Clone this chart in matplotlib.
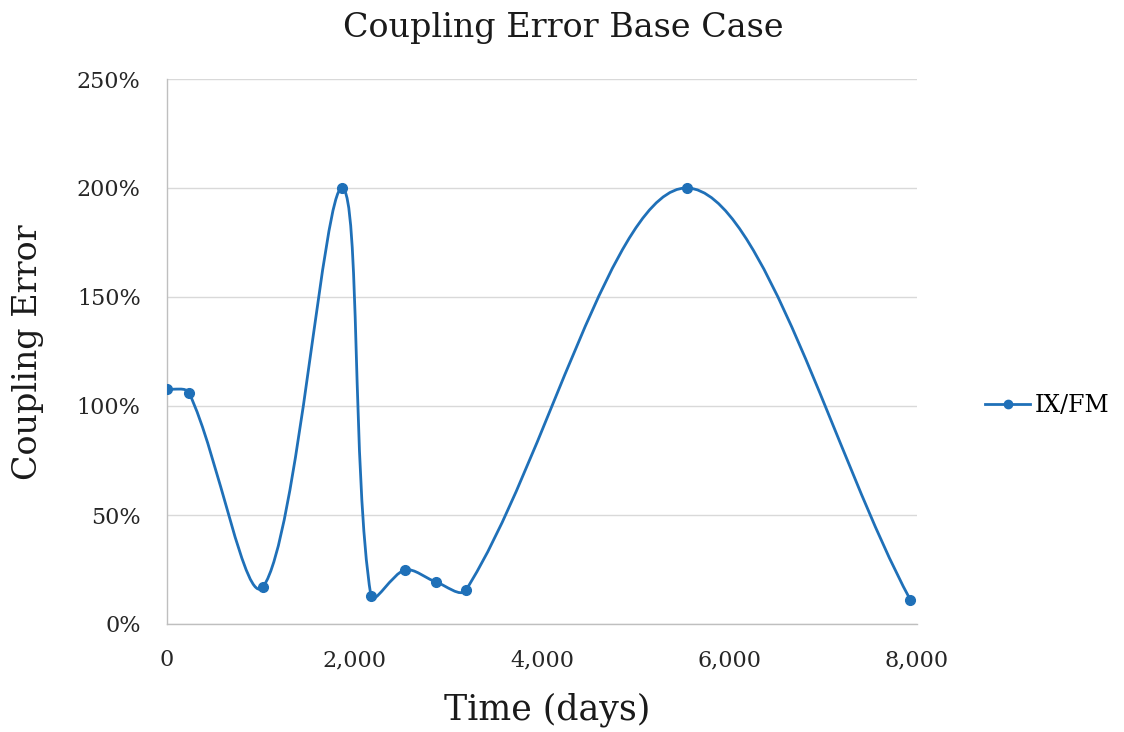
import numpy as np
import matplotlib
matplotlib.use("Agg")
import matplotlib.pyplot as plt
from matplotlib.path import Path
from matplotlib.patches import PathPatch
from matplotlib.lines import Line2D
from matplotlib.ticker import FuncFormatter

plt.rcParams['font.family'] = ['DejaVu Serif']

time_days = [0, 235, 1024, 1867, 2176, 2539, 2869, 3189, 5547, 7928]
coupling_error = [1.078, 1.06, 0.17, 2.00, 0.128, 0.248, 0.193, 0.156, 2.00, 0.112]
series_name = "IX/FM"
x_ticks = [0, 2000, 4000, 6000, 8000]
y_ticks = [0, 0.5, 1.0, 1.5, 2.0, 2.5]

color = '#1f70b8'

fig = plt.figure(figsize=(11.24, 7.32), dpi=100)
ax = fig.add_axes([167/1124, 1 - 624/732, 750/1124, 545/732])
ax.set_xlim(0, 8000)
ax.set_ylim(0, 2.5)

# Excel-like smoothed curve (Bezier with length-weighted tangents in display space)
fig.canvas.draw()
pts = ax.transData.transform(np.column_stack([time_days, coupling_error]))
n = len(pts)
verts = [tuple(pts[0])]
codes = [Path.MOVETO]
for i in range(n - 1):
    p0 = pts[max(i - 1, 0)]
    p1 = pts[i]
    p2 = pts[i + 1]
    p3 = pts[min(i + 2, n - 1)]
    d01 = np.hypot(*(p1 - p0))
    d12 = np.hypot(*(p2 - p1))
    d23 = np.hypot(*(p3 - p2))
    w1 = d12 / (d01 + d12) if (d01 + d12) > 0 else 0
    w2 = d12 / (d12 + d23) if (d12 + d23) > 0 else 0
    c1 = p1 + (p2 - p0) * w1 / 3
    c2 = p2 - (p3 - p1) * w2 / 3
    verts += [tuple(c1), tuple(c2), tuple(p2)]
    codes += [Path.CURVE4] * 3
inv = ax.transData.inverted()
verts_data = inv.transform(np.array(verts))
patch = PathPatch(Path(verts_data, codes), facecolor='none', edgecolor=color,
                  lw=2.0, zorder=3, capstyle='round', joinstyle='round')
ax.add_patch(patch)
ax.plot(time_days, coupling_error, linestyle='none', marker='o', markersize=7,
        color=color, zorder=4)

ax.set_xticks(x_ticks)
ax.set_yticks(y_ticks)
ax.xaxis.set_major_formatter(FuncFormatter(lambda v, p: f"{int(v):,}"))
ax.yaxis.set_major_formatter(FuncFormatter(lambda v, p: f"{int(round(v*100))}%"))
ax.tick_params(axis='both', length=0, labelsize=16, colors='#262626')
ax.tick_params(axis='x', pad=18)
ax.tick_params(axis='y', pad=19)

ax.grid(axis='y', color='#d9d9d9', lw=1)
ax.set_axisbelow(True)
for s in ['top', 'right']:
    ax.spines[s].set_visible(False)
for s in ['left', 'bottom']:
    ax.spines[s].set_color('#bfbfbf')
    ax.spines[s].set_linewidth(1)

fig.text(563/1124, 1 - 28/732, "Coupling Error Base Case", ha='center', va='center',
         fontsize=24, color='#1a1a1a')
fig.text(28/1124, 1 - 352/732, "Coupling Error", ha='center', va='center',
         rotation=90, fontsize=24, color='#1a1a1a')
fig.text(547/1124, 1 - 710/732, "Time (days)", ha='center', va='center',
         fontsize=25, color='#1a1a1a')

handle = Line2D([], [], color=color, lw=2.0, marker='o', markersize=6)
fig.legend([handle], [series_name], loc='center left',
           bbox_to_anchor=(964/1124, 1 - 406/732), frameon=False,
           fontsize=17, handlelength=1.9, handletextpad=0.2)

fig.savefig('out.png', dpi=100)
